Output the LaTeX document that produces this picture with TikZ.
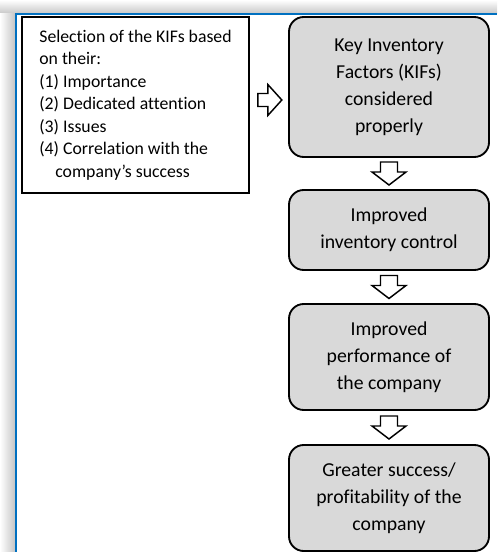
\documentclass[tikz,border=0pt]{standalone}
\usepackage{fontspec}
\setmainfont[Ligatures={NoCommon,NoContextual},Contextuals=NoAlternate]{Carlito}
\usetikzlibrary{calc}
\definecolor{kifGrey}{HTML}{D9D9D9}
\definecolor{kifBlue}{RGB}{0,112,192}
\begin{document}
\begin{tikzpicture}[
    x=0.75pt,y=-0.75pt,
    kifBk/.style={rectangle,rounded corners=11pt,draw=black,line width=1.4pt,fill=kifGrey,minimum width=150pt,align=center,inner sep=0pt,font={\fontsize{14.8pt}{20.2pt}\selectfont}},
    kifSel/.style={rectangle,draw=black,line width=1.1pt,minimum width=170pt,minimum height=132pt,align=left,inner sep=0pt,font={\fontsize{13.3pt}{16.9pt}\selectfont}},
    kifArr/.style={draw=black,line width=1.1pt,fill=white,line join=miter},
]
\useasboundingbox (0,0) rectangle (497,552);
% window frame
\shade[top color=white,bottom color=gray!45] (0,0) rectangle (497,14);
\shade[left color=white,right color=gray!45] (0,14) rectangle (15,552);
\draw[kifBlue,line width=1.5pt] (15.5,552) -- (15.5,14.5) -- (497,14.5);
% boxes
\node[kifSel] (sel) at (135.5,105) {Selection of the KIFs based\\on their:\\(1) Importance\\(2) Dedicated attention\\(3) Issues\\(4) Correlation with the\\\hspace*{12pt}company’s success};
\node[kifBk,minimum height=105pt] (kif) at (389,87) {Key Inventory\\Factors (KIFs)\\considered\\properly};
\node[kifBk,minimum height=60pt] (ctrl) at (389,230) {Improved\\inventory control};
\node[kifBk,minimum height=79.5pt] (perf) at (389,357) {Improved\\performance of\\the company};
\node[kifBk,minimum height=79.5pt] (prof) at (389,498) {Greater success/\\profitability of the\\company};
% block arrows
\coordinate (m0) at ($(sel.east)!0.5!(kif.west)+(1,4)$);
\draw[kifArr] (m0) ++(-12,-6.5) -- ++(10,0) -- ++(0,-9) -- ++(14,15.5) -- ++(-14,15.5) -- ++(0,-9) -- ++(-10,0) -- cycle;
\foreach \a/\b in {kif/ctrl,ctrl/perf,perf/prof}{
  \coordinate (m) at ($(\a.south)!0.5!(\b.north)$);
  \draw[kifArr] (m) ++(-8.5,-11.5) -- ++(17,0) -- ++(0,10) -- ++(8.5,0) -- ++(-17,13) -- ++(-17,-13) -- ++(8.5,0) -- cycle;
}
\end{tikzpicture}
\end{document}
